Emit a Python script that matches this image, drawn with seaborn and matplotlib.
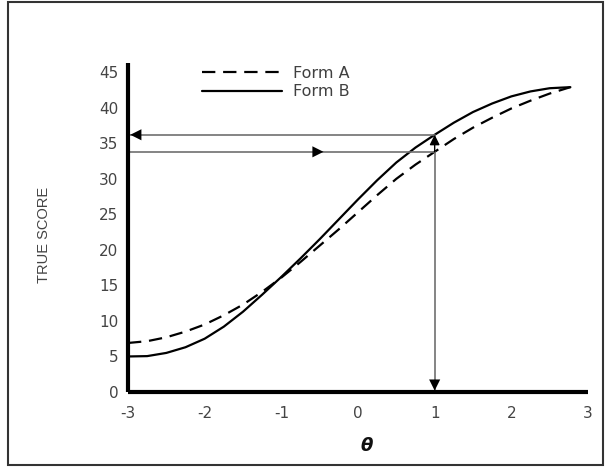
import matplotlib
matplotlib.use("Agg")
import matplotlib.pyplot as plt
from matplotlib.patches import Rectangle
import pandas as pd
import seaborn as sns

# Ability scale (theta) and test characteristic curves for the two forms
theta = [-3.0, -2.75, -2.5, -2.25, -2.0, -1.75, -1.5, -1.25, -1.0, -0.75,
         -0.5, -0.25, 0.0, 0.25, 0.5, 0.75, 1.0, 1.25, 1.5, 1.75,
         2.0, 2.25, 2.5, 2.77]
form_a = [6.9, 7.15, 7.7, 8.5, 9.5, 10.8, 12.3, 14.1, 16.1, 18.3,
          20.6, 22.9, 25.3, 27.7, 30.0, 32.0, 33.8, 35.6, 37.2, 38.6,
          39.9, 41.0, 42.0, 42.9]
form_b = [5.0, 5.05, 5.5, 6.3, 7.5, 9.2, 11.3, 13.7, 16.2, 18.8,
          21.5, 24.3, 27.1, 29.8, 32.3, 34.4, 36.2, 37.9, 39.4, 40.6,
          41.6, 42.3, 42.75, 42.9]
form_labels = ["Form A", "Form B"]

x_ticks = [-3, -2, -1, 0, 1, 2, 3]
y_ticks = [0, 5, 10, 15, 20, 25, 30, 35, 40, 45]

# Equating path: theta point used to link the two forms
theta_link = 1.0

df = pd.DataFrame({
    "theta": theta * 2,
    "score": form_a + form_b,
    "form": [form_labels[0]] * len(theta) + [form_labels[1]] * len(theta),
})

sns.set_theme(style="white")
plt.rcParams["font.family"] = ["DejaVu Sans"]

fig = plt.figure(figsize=(6.08, 4.68), dpi=100)
ax = fig.add_axes([128 / 608, 1 - 392 / 468, 460 / 608, 329 / 468])

sns.lineplot(
    data=df, x="theta", y="score", style="form",
    style_order=form_labels,
    dashes={form_labels[0]: (6, 3.5), form_labels[1]: ""},
    color="black", linewidth=1.6, ax=ax, legend=True,
)
for line in ax.lines:
    line.set_clip_on(False)
    line.set_solid_joinstyle("round")
    line.set_dash_joinstyle("round")

ax.set_xlim(-3, 3)
ax.set_ylim(0, 46.3)
ax.set_xticks(x_ticks)
ax.set_yticks(y_ticks)
ax.set_xticklabels([str(t) for t in x_ticks])
ax.set_yticklabels([str(t) for t in y_ticks])
ax.tick_params(axis="both", length=0, labelsize=11, labelcolor="#444444")
ax.tick_params(axis="x", pad=10)
ax.tick_params(axis="y", pad=7)

for side in ["top", "right"]:
    ax.spines[side].set_visible(False)
for side in ["left", "bottom"]:
    ax.spines[side].set_linewidth(3.0)
    ax.spines[side].set_color("black")
    ax.spines[side].set_capstyle("butt")

ax.set_xlabel("θ", fontsize=13, fontweight="bold", fontstyle="italic",
              color="#111111")
ax.xaxis.set_label_coords((367 - 128) / 460, (392 - 437) / 329)
ax.set_ylabel("TRUE SCORE", fontsize=10.5, color="#444444",
              family=["Liberation Sans", "DejaVu Sans"])
ax.yaxis.set_label_coords((51 - 128) / 460, (392 - 235) / 329)

# Equating arrows at theta_link
i_link = theta.index(theta_link)
score_a = form_a[i_link]
score_b = form_b[i_link]
guide = dict(color="#707070", lw=1.2)
head = dict(arrowstyle="-|>", color="black", lw=0, mutation_scale=20,
            shrinkA=0, shrinkB=0)

# Form A score across to the curve
ax.plot([-3, theta_link], [score_a, score_a], **guide, clip_on=False)
ax.annotate("", xy=(-0.45, score_a), xytext=(-0.9, score_a),
            arrowprops=head, annotation_clip=False)
# Down to the theta axis
ax.plot([theta_link, theta_link], [score_a, 0], **guide, clip_on=False)
ax.annotate("", xy=(theta_link, 0.2), xytext=(theta_link, 4.0),
            arrowprops=head, annotation_clip=False)
# Up to the Form B curve
ax.annotate("", xy=(theta_link, score_b), xytext=(theta_link, score_a),
            arrowprops=dict(arrowstyle="-|>", color="black", lw=1.0,
                            mutation_scale=15, shrinkA=0, shrinkB=0),
            annotation_clip=False)
# Back across to the score axis
ax.plot([theta_link, -3], [score_b, score_b], **guide, clip_on=False)
ax.annotate("", xy=(-2.97, score_b), xytext=(-2.4, score_b),
            arrowprops=head, annotation_clip=False)

leg = ax.legend(
    loc="upper left", bbox_to_anchor=((202 - 128) / 460, (392 - 66) / 329),
    frameon=False, fontsize=11.5, handlelength=5.0, handletextpad=0.7,
    labelspacing=0.2, borderpad=0, borderaxespad=0,
)
for txt in leg.get_texts():
    txt.set_color("#404040")
leg.set_title(None)

# Outer frame around the figure
fig.patches.append(Rectangle((8 / 608, 1 - 465 / 468), 595 / 608, 463 / 468,
                             transform=fig.transFigure, fill=False,
                             edgecolor="#333333", linewidth=1.5))

fig.savefig("out.png", dpi=100)
